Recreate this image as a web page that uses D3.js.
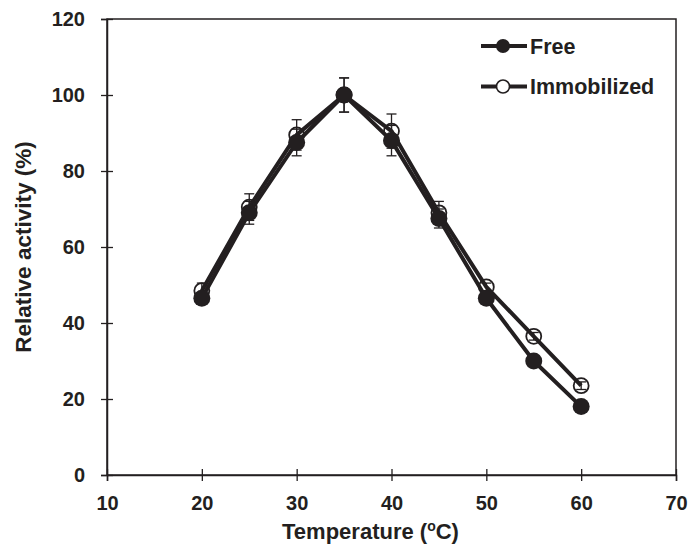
<!DOCTYPE html>
<html>
<head>
<meta charset="utf-8">
<script src="https://cdn.jsdelivr.net/npm/d3@7"></script>
<style>
  body { margin: 0; background: #fff; }
  svg text { font-family: "Liberation Sans", Arial, sans-serif; font-weight: bold; fill: #231f20; }
</style>
</head>
<body>
<svg id="chart" width="688" height="545"></svg>
<script>
// Temperature profile of free vs immobilized enzyme
const temperatures = [20, 25, 30, 35, 40, 45, 50, 55, 60];
const freeActivity = [46.5, 69, 87.5, 100, 88, 67.5, 46.5, 30, 18];
const freeError = [1.5, 3, 3.5, 4.5, 4, 2.5, 1, 1, 1];
const immobActivity = [48.5, 70.5, 89.5, 100, 90.5, 69, 49.5, 36.5, 23.5];
const immobError = [2, 3.5, 4, 4.5, 4.5, 3, 1, 1, 1];
const xTicks = [10, 20, 30, 40, 50, 60, 70];
const yTicks = [0, 20, 40, 60, 80, 100, 120];
const seriesNames = ["Free", "Immobilized"];

const ink = "#231f20";
const svg = d3.select("#chart");
const m = { left: 107, right: 676, top: 19, bottom: 475 };

const x = d3.scaleLinear().domain([10, 70]).range([m.left, m.right]);
const y = d3.scaleLinear().domain([0, 120]).range([m.bottom, m.top]);

// frame
svg.append("rect")
  .attr("x", m.left).attr("y", m.top)
  .attr("width", m.right - m.left).attr("height", m.bottom - m.top)
  .attr("fill", "none").attr("stroke", ink).attr("stroke-width", 1.5);

// x axis
const xAxis = svg.append("g").attr("transform", `translate(0,${m.bottom})`)
  .call(d3.axisBottom(x).tickValues(xTicks).tickSize(6).tickPadding(15).tickFormat(d3.format("d")));
xAxis.select(".domain").attr("stroke", ink).attr("stroke-width", 1.5);
xAxis.selectAll(".tick line").attr("stroke", ink).attr("stroke-width", 1.3).attr("y1", -6).attr("y2", 6);
xAxis.selectAll(".tick text").attr("font-size", 20).attr("fill", ink);

// y axis
const yAxis = svg.append("g").attr("transform", `translate(${m.left},0)`)
  .call(d3.axisLeft(y).tickValues(yTicks).tickSize(6).tickPadding(16).tickFormat(d3.format("d")));
yAxis.select(".domain").attr("stroke", ink).attr("stroke-width", 1.5);
yAxis.selectAll(".tick line").attr("stroke", ink).attr("stroke-width", 1.3).attr("x1", 6).attr("x2", -6);
yAxis.selectAll(".tick text").attr("font-size", 20).attr("fill", ink);

// axis titles
const xTitle = svg.append("text")
  .attr("x", (m.left + m.right) / 2 - 21).attr("y", 539)
  .attr("text-anchor", "middle").attr("font-size", 22);
xTitle.append("tspan").text("Temperature (");
xTitle.append("tspan").text("o").attr("font-size", 14).attr("dy", -8);
xTitle.append("tspan").text("C)").attr("dy", 8);

svg.append("text")
  .attr("transform", `translate(31,${(m.top + m.bottom) / 2}) rotate(-90)`)
  .attr("text-anchor", "middle").attr("font-size", 22.5)
  .text("Relative activity (%)");

const series = [
  { name: seriesNames[0], values: freeActivity, err: freeError, filled: true },
  { name: seriesNames[1], values: immobActivity, err: immobError, filled: false }
];

const line = d3.line().x((d, i) => x(temperatures[i])).y(d => y(d));

// error bars
series.forEach(s => {
  const g = svg.append("g").attr("stroke", ink).attr("stroke-width", 1.3);
  s.values.forEach((v, i) => {
    const cx = x(temperatures[i]);
    const top = y(v + s.err[i]), bot = y(v - s.err[i]);
    g.append("line").attr("x1", cx).attr("x2", cx).attr("y1", top).attr("y2", bot);
    g.append("line").attr("x1", cx - 5).attr("x2", cx + 5).attr("y1", top).attr("y2", top);
    g.append("line").attr("x1", cx - 5).attr("x2", cx + 5).attr("y1", bot).attr("y2", bot);
  });
});

// lines (immobilized first so free sits on top)
[series[1], series[0]].forEach(s => {
  svg.append("path").datum(s.values)
    .attr("d", line).attr("fill", "none")
    .attr("stroke", ink).attr("stroke-width", 4).attr("stroke-linejoin", "round");
});

// markers
[series[1], series[0]].forEach(s => {
  svg.append("g").selectAll("circle").data(s.values).join("circle")
    .attr("cx", (d, i) => x(temperatures[i]))
    .attr("cy", d => y(d))
    .attr("r", s.filled ? 8.5 : 7.5)
    .attr("fill", s.filled ? ink : "none")
    .attr("stroke", ink).attr("stroke-width", s.filled ? 0 : 1.8);
});

// legend
const legend = svg.append("g");
series.forEach((s, i) => {
  const ly = 46 + i * 40.5;
  legend.append("line").attr("x1", 481).attr("x2", 527).attr("y1", ly).attr("y2", ly)
    .attr("stroke", ink).attr("stroke-width", 4);
  legend.append("circle").attr("cx", 503).attr("cy", ly).attr("r", s.filled ? 7 : 6.5)
    .attr("fill", s.filled ? ink : "#fff").attr("stroke", ink)
    .attr("stroke-width", s.filled ? 0 : 1.6);
  legend.append("text").attr("x", 530).attr("y", ly + 7.5).attr("font-size", 21.5).text(s.name);
});
</script>
</body>
</html>
